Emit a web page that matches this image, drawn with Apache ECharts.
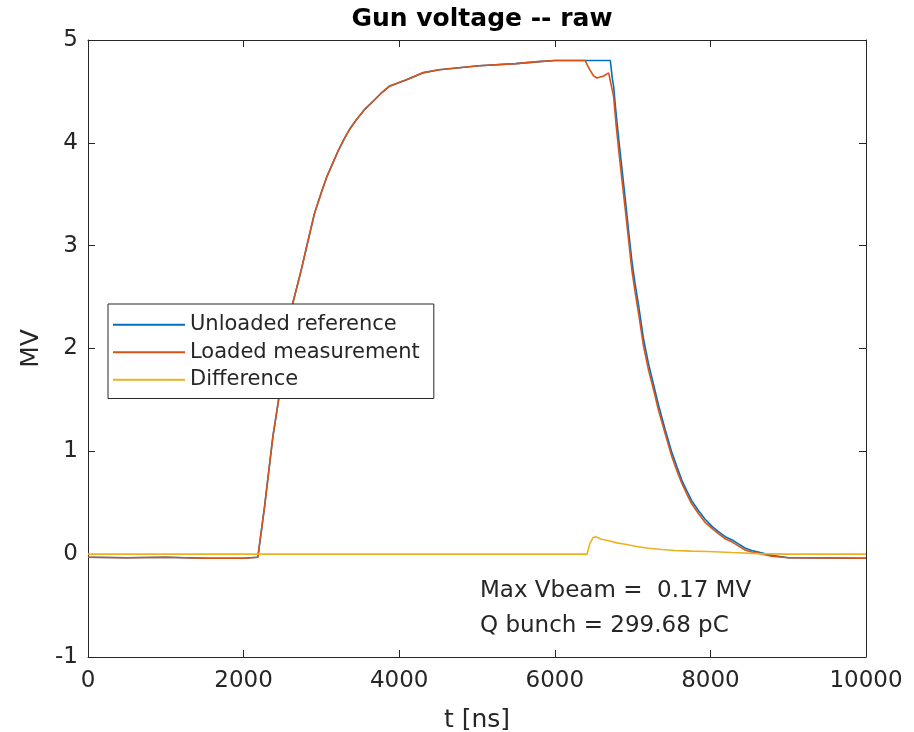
<!DOCTYPE html>
<html>
<head>
  <meta charset="UTF-8">
  <title>Gun voltage -- raw</title>
  <script src="https://cdn.jsdelivr.net/npm/echarts@6/dist/echarts.min.js"></script>
  <style>
    html, body { margin: 0; padding: 0; background: #fff; }
    #chart { width: 914px; height: 732px; }
  </style>
</head>
<body>
<div id="chart"></div>
<script type="text/javascript">
  // [t in ns, MV]
  var unloadedRef = [
    [0,-0.03],[500,-0.035],[1000,-0.03],[1500,-0.04],[2000,-0.04],[2183,-0.03],
    [2269,0.46],[2376,1.14],[2462,1.56],[2550,2.01],[2632,2.44],[2740,2.76],[2804,2.97],[2910,3.31],
    [2996,3.51],[3070,3.67],[3145,3.80],[3220,3.93],[3295,4.04],[3370,4.14],[3445,4.22],[3550,4.32],
    [3658,4.40],[3765,4.48],[3872,4.55],[4086,4.61],
    [4299,4.68],[4513,4.71],[5026,4.75],[5500,4.77],[5795,4.79],[6000,4.80],[6400,4.80],
    [6714,4.80],[6740,4.62],[6756,4.55],[6786,4.30],[6821,4.04],[6863,3.75],[6906,3.45],
    [6949,3.14],[6991,2.85],[7034,2.62],[7077,2.42],[7141,2.09],[7205,1.85],[7269,1.65],
    [7333,1.45],[7419,1.21],[7504,0.99],[7570,0.85],[7632,0.72],[7700,0.61],[7760,0.52],[7850,0.42],
    [7932,0.34],[8020,0.27],[8103,0.22],[8190,0.17],
    [8274,0.14],[8360,0.10],[8444,0.06],[8530,0.035],[8615,0.02],[8786,-0.01],[9000,-0.035],[10000,-0.04]
  ];
  var loadedMeas = [
    [0,-0.03],[500,-0.035],[1000,-0.03],[1500,-0.04],[2000,-0.04],[2183,-0.03],
    [2269,0.46],[2376,1.14],[2462,1.56],[2550,2.01],[2632,2.44],[2740,2.76],[2804,2.97],[2910,3.31],
    [2996,3.51],[3070,3.67],[3145,3.80],[3220,3.93],[3295,4.04],[3370,4.14],[3445,4.22],[3550,4.32],
    [3658,4.40],[3765,4.48],[3872,4.55],[4086,4.61],
    [4299,4.68],[4513,4.71],[5026,4.75],[5500,4.77],[5795,4.79],[6000,4.80],[6390,4.80],
    [6450,4.71],[6500,4.65],[6543,4.63],[6628,4.65],[6692,4.68],[6714,4.68],[6756,4.45],
    [6786,4.19],[6821,3.93],[6863,3.64],[6906,3.35],[6949,3.05],[6991,2.76],[7034,2.54],
    [7077,2.34],[7141,2.02],[7205,1.79],[7269,1.60],[7333,1.40],[7419,1.17],[7504,0.95],
    [7570,0.81],[7632,0.69],[7700,0.58],[7760,0.49],[7850,0.39],[7932,0.31],[8020,0.25],
    [8103,0.20],[8190,0.15],[8274,0.12],[8360,0.08],[8444,0.04],[8530,0.02],[8615,0.01],
    [8786,-0.02],[9000,-0.035],[10000,-0.04]
  ];
  var difference = [
    [0,0],[6414,0],[6450,0.10],[6490,0.16],[6521,0.17],[6560,0.16],[6600,0.145],
    [6692,0.13],[6800,0.11],[6906,0.097],[7050,0.075],[7205,0.058],[7380,0.045],
    [7547,0.036],[7750,0.030],[7974,0.026],[8270,0.016],[8615,0.005],[9000,0],[10000,0]
  ];
  var seriesNames = ['Unloaded reference', 'Loaded measurement', 'Difference'];
  var seriesColors = ['#0072BD', '#D95319', '#EDB120'];
  var noteLines = ['Max Vbeam =  0.17 MV', 'Q bunch = 299.68 pC'];

  var axisColor = '#262626';
  var font = 'DejaVu Sans';

  function boxAxis(pos, isX, showLabels){
    var a = {
      type: 'value',
      position: pos,
      min: isX ? 0 : -1,
      max: isX ? 10000 : 5,
      interval: isX ? 2000 : 1,
      axisLine: { show: true, onZero: false, lineStyle: { color: axisColor, width: 1 } },
      axisTick: { show: true, inside: true, length: 7, lineStyle: { color: axisColor, width: 1 } },
      splitLine: { show: false },
      axisLabel: {
        show: showLabels, color: axisColor, fontFamily: font, fontSize: 23, margin: isX ? 13 : 10,
        formatter: function(v){ return String(v); }
      }
    };
    return a;
  }

  var xMain = boxAxis('bottom', true, true);
  xMain.name = 't [ns]';
  xMain.nameLocation = 'middle';
  xMain.nameGap = 51;
  xMain.nameTextStyle = { color: axisColor, fontFamily: font, fontSize: 25 };
  var yMain = boxAxis('left', false, true);
  yMain.name = 'MV';
  yMain.nameLocation = 'middle';
  yMain.nameGap = 42;
  yMain.nameTextStyle = { color: axisColor, fontFamily: font, fontSize: 25 };

  var allData = [unloadedRef, loadedMeas, difference];
  var series = allData.map(function(d, i){
    return {
      name: seriesNames[i],
      type: 'line',
      data: d,
      xAxisIndex: 0,
      yAxisIndex: 0,
      showSymbol: false,
      symbol: 'none',
      z: 2 + i,
      lineStyle: { color: seriesColors[i], width: 1.6 },
      itemStyle: { color: seriesColors[i] }
    };
  });

  var chart = echarts.init(document.getElementById('chart'));
  chart.setOption({
    animation: false,
    backgroundColor: '#fff',
    title: {
      text: 'Gun voltage -- raw',
      left: 477,
      textAlign: 'center',
      top: 2,
      textStyle: { fontFamily: font, fontSize: 25, fontWeight: 'bold', color: '#000' }
    },
    grid: { left: 88, right: 48, top: 40, bottom: 75, containLabel: false, outerBoundsMode: 'none' },
    xAxis: [xMain, boxAxis('top', true, false)],
    yAxis: [yMain, boxAxis('right', false, false)],
    legend: {
      data: seriesNames,
      orient: 'vertical',
      left: 108,
      top: 304,
      padding: [7, 14, 5, 5],
      itemGap: 0,
      itemWidth: 72,
      itemHeight: 2,
      icon: 'rect',
      backgroundColor: '#fff',
      borderColor: axisColor,
      borderWidth: 1,
      textStyle: { fontFamily: font, fontSize: 21, color: axisColor, lineHeight: 27.5 }
    },
    graphic: noteLines.map(function(t, i){
      return {
        type: 'text',
        left: 480,
        top: 580 + i * 35,
        style: { text: t, fontFamily: font, fontSize: 23, fill: axisColor }
      };
    }),
    series: series
  });
</script>
</body>
</html>
